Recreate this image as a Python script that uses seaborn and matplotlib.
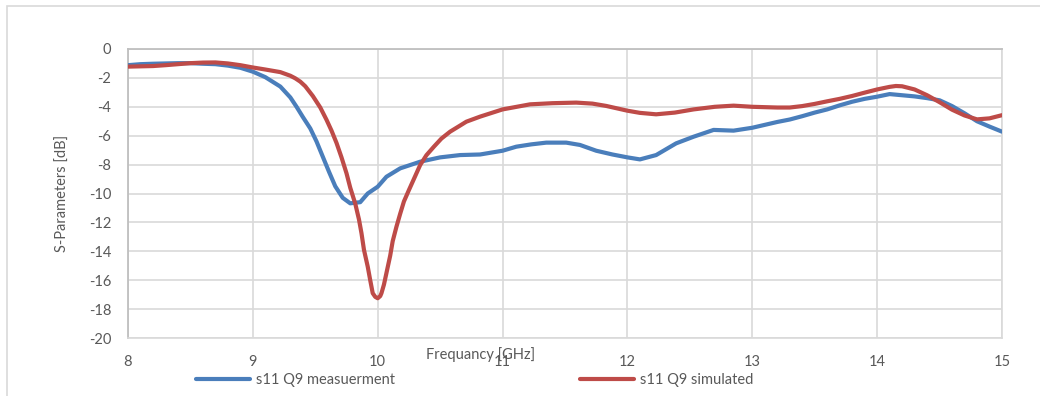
import matplotlib
matplotlib.use("Agg")
import matplotlib.pyplot as plt
from matplotlib.patches import Rectangle
import pandas as pd
import seaborn as sns

# Measured reflection coefficient (GHz, dB)
meas_freq = [8.00, 8.10, 8.20, 8.30, 8.40, 8.50, 8.60, 8.70, 8.80, 8.90,
             9.00, 9.10, 9.22, 9.30, 9.35, 9.40, 9.46, 9.51, 9.56, 9.61,
             9.66, 9.72, 9.78, 9.86, 9.92, 10.00, 10.07, 10.18, 10.34, 10.50,
             10.66, 10.82, 11.00, 11.11, 11.23, 11.35, 11.51, 11.62, 11.75, 11.88,
             12.00, 12.10, 12.23, 12.39, 12.53, 12.69, 12.85, 13.00, 13.10, 13.20,
             13.30, 13.40, 13.50, 13.60, 13.70, 13.80, 13.90, 14.00, 14.10, 14.20,
             14.30, 14.40, 14.50, 14.60, 14.70, 14.80, 14.90, 15.00]
meas_db = [-1.12, -1.05, -1.02, -1.00, -0.98, -0.98, -1.02, -1.05, -1.15, -1.30,
           -1.57, -1.95, -2.60, -3.35, -4.00, -4.70, -5.50, -6.40, -7.45, -8.50,
           -9.50, -10.30, -10.68, -10.60, -10.00, -9.53, -8.84, -8.26, -7.80, -7.50,
           -7.34, -7.30, -7.04, -6.76, -6.60, -6.48, -6.48, -6.64, -7.04, -7.30,
           -7.50, -7.64, -7.34, -6.53, -6.07, -5.60, -5.65, -5.45, -5.25, -5.05,
           -4.88, -4.65, -4.40, -4.18, -3.90, -3.65, -3.45, -3.30, -3.12, -3.20,
           -3.28, -3.40, -3.55, -3.95, -4.45, -5.00, -5.37, -5.72]

# Simulated reflection coefficient (GHz, dB)
sim_freq = [8.00, 8.10, 8.20, 8.30, 8.40, 8.50, 8.60, 8.70, 8.80, 8.90,
            9.00, 9.10, 9.22, 9.30, 9.34, 9.38, 9.42, 9.48, 9.54, 9.59,
            9.63, 9.67, 9.71, 9.75, 9.78, 9.82, 9.85, 9.87, 9.89, 9.92,
            9.94, 9.96, 9.98, 10.00, 10.02, 10.03, 10.05, 10.07, 10.10, 10.12,
            10.15, 10.18, 10.21, 10.25, 10.30, 10.34, 10.39, 10.45, 10.51, 10.58,
            10.65, 10.71, 10.82, 11.00, 11.22, 11.40, 11.59, 11.72, 11.83, 12.00,
            12.10, 12.23, 12.38, 12.53, 12.70, 12.85, 13.00, 13.20, 13.30, 13.40,
            13.50, 13.60, 13.70, 13.80, 13.90, 14.00, 14.10, 14.15, 14.20, 14.30,
            14.40, 14.50, 14.60, 14.70, 14.80, 14.90, 15.00]
sim_db = [-1.22, -1.20, -1.18, -1.12, -1.05, -0.98, -0.94, -0.93, -1.00, -1.12,
          -1.28, -1.42, -1.60, -1.85, -2.03, -2.26, -2.58, -3.25, -4.05, -4.90,
          -5.65, -6.50, -7.50, -8.60, -9.60, -10.70, -11.80, -12.75, -13.90, -15.06,
          -16.00, -16.90, -17.15, -17.25, -17.10, -16.90, -16.30, -15.50, -14.30, -13.30,
          -12.30, -11.40, -10.55, -9.76, -8.80, -8.03, -7.35, -6.76, -6.20, -5.72,
          -5.35, -5.03, -4.68, -4.18, -3.83, -3.75, -3.71, -3.78, -3.94, -4.27,
          -4.42, -4.52, -4.40, -4.18, -4.00, -3.92, -4.00, -4.05, -4.05, -3.95,
          -3.80, -3.62, -3.45, -3.25, -3.02, -2.80, -2.62, -2.56, -2.58, -2.80,
          -3.20, -3.68, -4.20, -4.60, -4.87, -4.80, -4.58]

series_names = ["s11 Q9 measuerment", "s11 Q9 simulated"]
series_colors = ["#4A7EBB", "#BE4B48"]

x_ticks = [8, 9, 10, 11, 12, 13, 14, 15]
y_ticks = [0, -2, -4, -6, -8, -10, -12, -14, -16, -18, -20]

df = pd.concat([
    pd.DataFrame({"freq": meas_freq, "db": meas_db, "series": series_names[0]}),
    pd.DataFrame({"freq": sim_freq, "db": sim_db, "series": series_names[1]}),
], ignore_index=True)

sns.set_theme(style="white")
plt.rcParams["font.family"] = ["Lato", "DejaVu Sans"]
text_color = "#595959"
grid_color = "#D9D9D9"
axis_color = "#BFBFBF"

fig = plt.figure(figsize=(10.4, 3.96), dpi=100)
ax = fig.add_axes([128 / 1040, 1 - 338 / 396, 874 / 1040, 289 / 396])

sns.lineplot(data=df, x="freq", y="db", hue="series", hue_order=series_names,
             palette=series_colors, linewidth=3.0, sort=False, ax=ax,
             legend=False, zorder=3)
for line in ax.get_lines():
    line.set_solid_joinstyle("round")
    line.set_solid_capstyle("round")

ax.set_xlim(8, 15)
ax.set_ylim(-20, 0)
ax.set_xticks(x_ticks)
ax.set_yticks(y_ticks)
ax.set_xticklabels([str(t) for t in x_ticks])
ax.set_yticklabels([str(t) for t in y_ticks])
ax.tick_params(axis="both", length=0, labelsize=10.5, colors=text_color)
ax.tick_params(axis="x", pad=12)
ax.tick_params(axis="y", pad=12)

ax.grid(True, color=grid_color, linewidth=1.2, zorder=0)
ax.set_axisbelow(True)
for side in ["right", "bottom"]:
    ax.spines[side].set_color(grid_color)
    ax.spines[side].set_linewidth(1.2)
for side in ["left", "top"]:
    ax.spines[side].set_color(axis_color)
    ax.spines[side].set_linewidth(1.3)

ax.set_xlabel("Frequancy [GHz]", fontsize=10.5, color=text_color)
ax.set_ylabel("S-Parameters [dB]", fontsize=10.5, color=text_color)
ax.xaxis.set_label_coords((481 - 128) / 874, -0.03)
ax.yaxis.set_label_coords(-0.066, 0.5)

handles = [plt.Line2D([], [], color=c, linewidth=3.0) for c in series_colors]
fig.legend(handles, series_names, loc="center left", ncol=2, frameon=False,
           bbox_to_anchor=(190 / 1040, 1 - 380 / 396), fontsize=10.5,
           handlelength=3.7, handletextpad=0.4, columnspacing=12.7,
           labelcolor=text_color, borderaxespad=0)

# chart frame
fig.patches.append(Rectangle((7 / 1040, -0.05), 1.1, 1.05 - 6 / 396,
                             transform=fig.transFigure, fill=False,
                             edgecolor=grid_color, linewidth=1.2))

fig.savefig("out.png", dpi=100)
